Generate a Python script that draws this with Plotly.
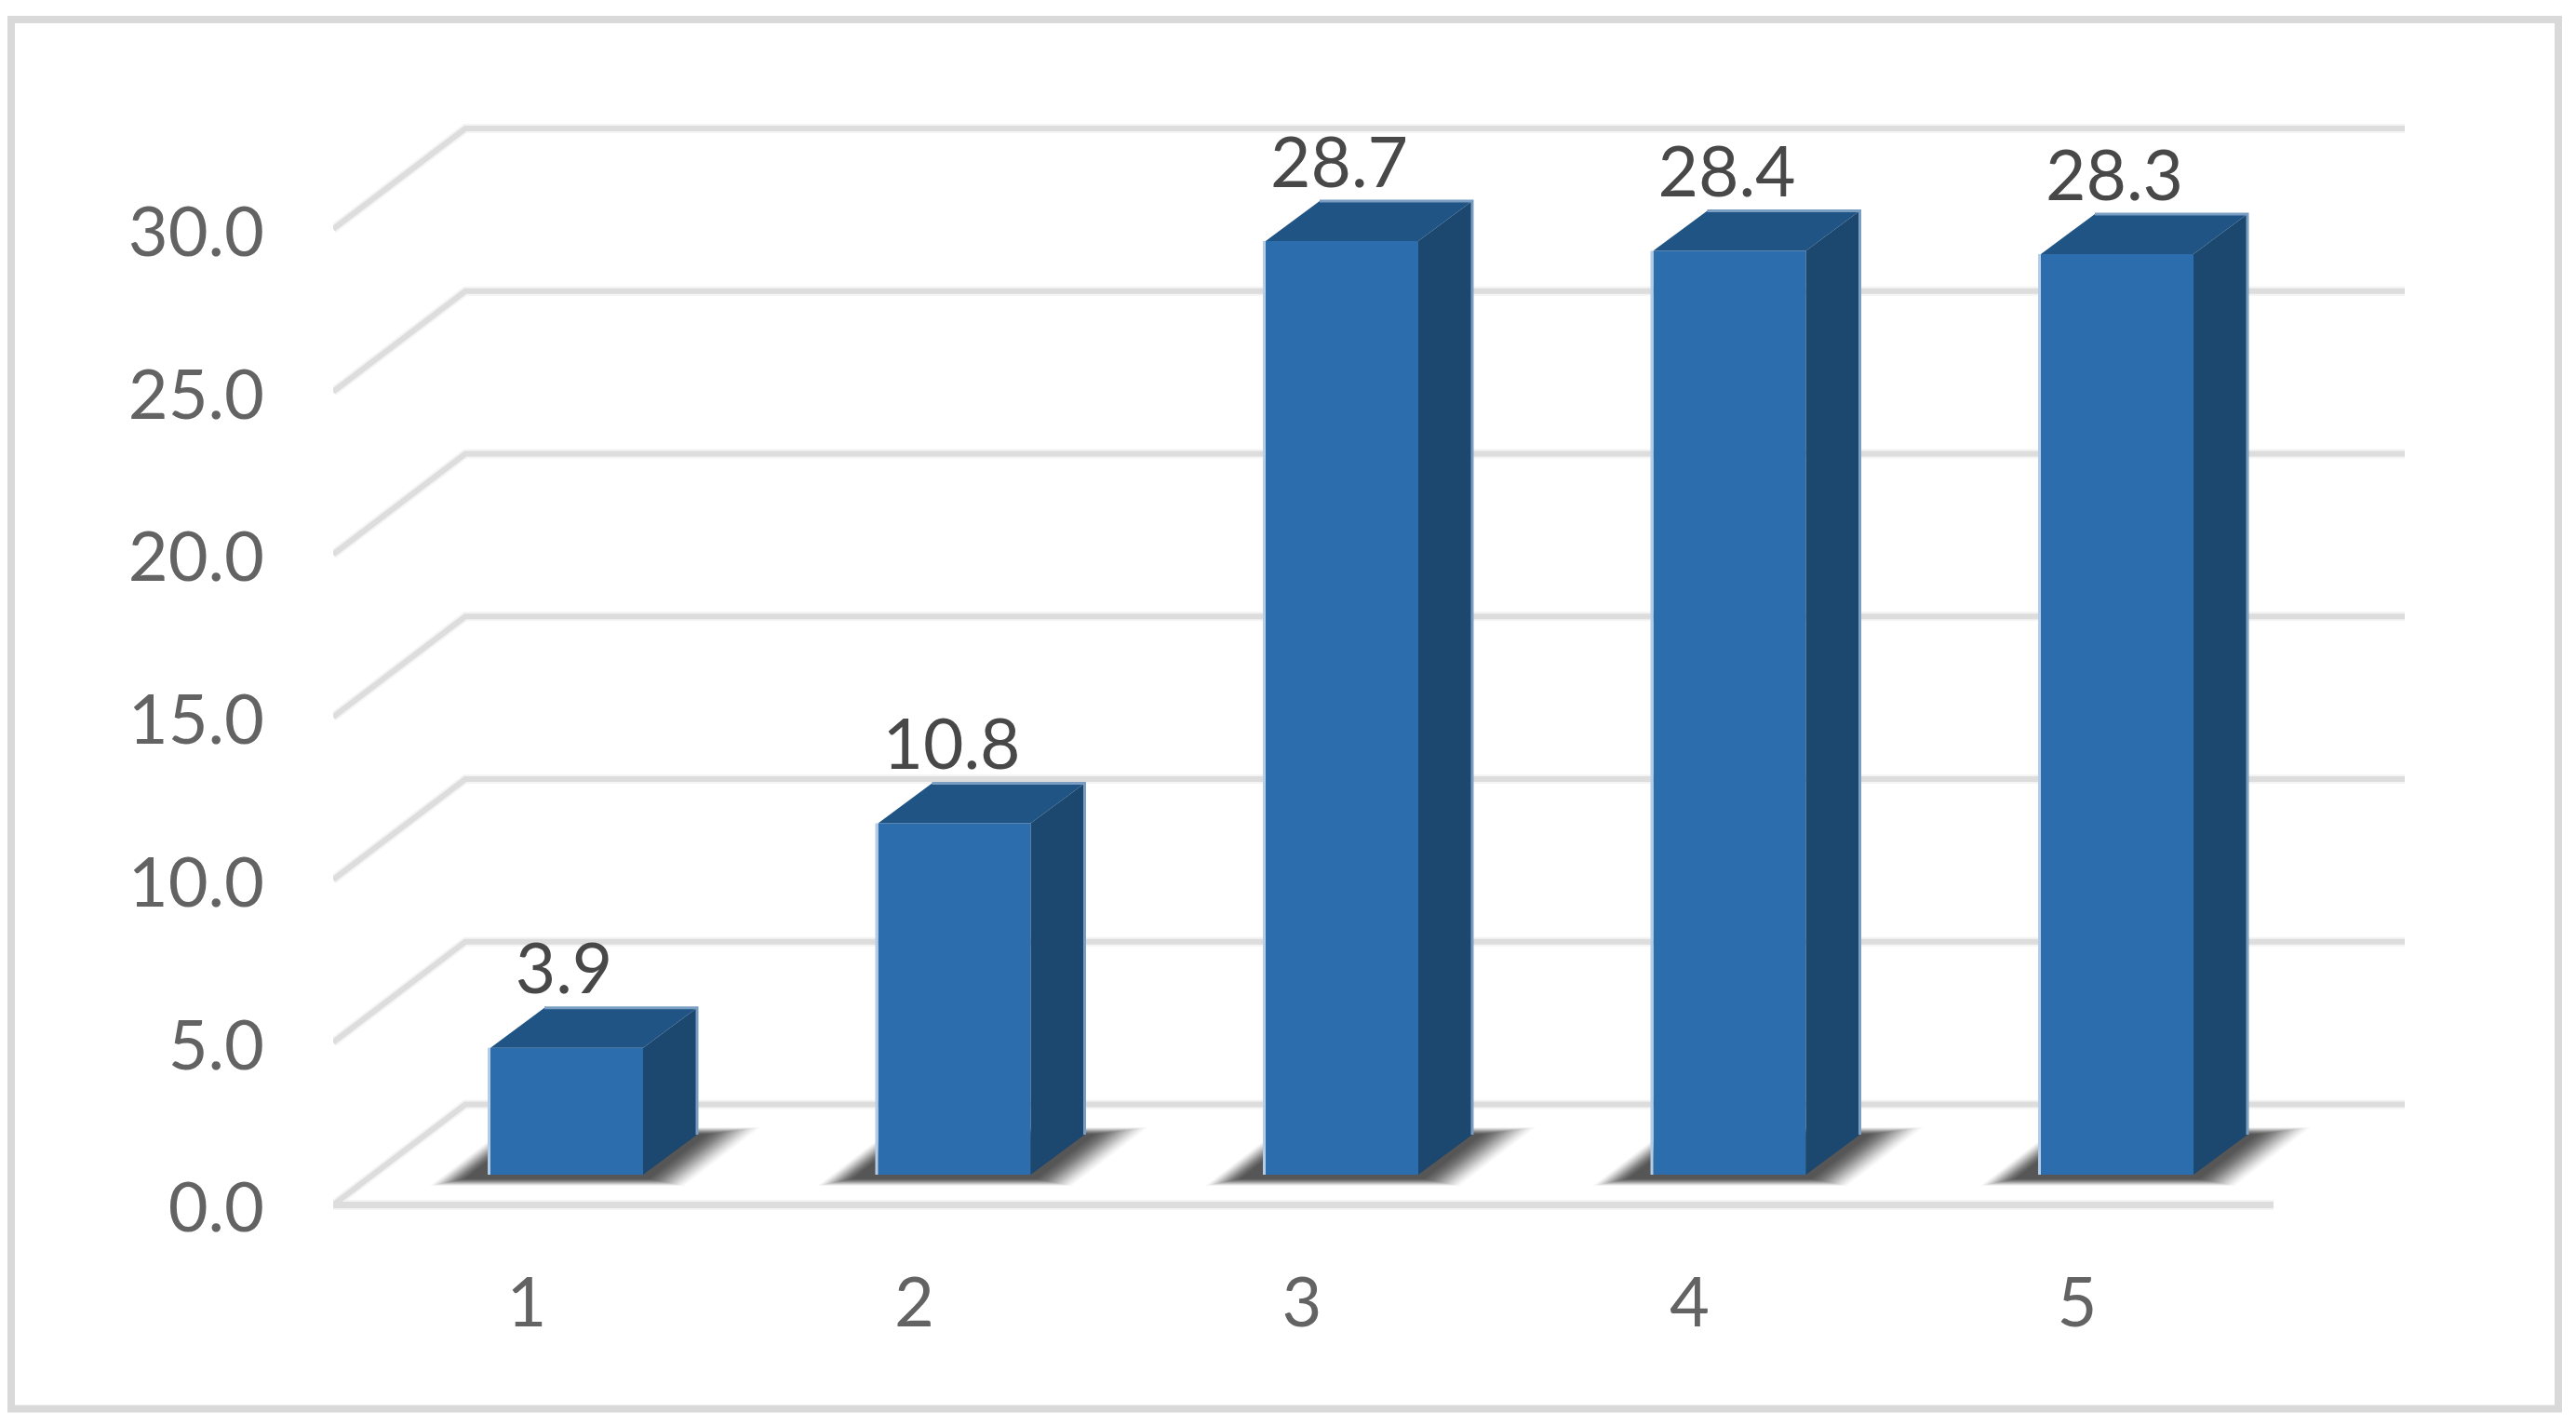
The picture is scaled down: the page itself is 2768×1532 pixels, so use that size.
import plotly.graph_objects as go

# ---- data ----
categories = [1, 2, 3, 4, 5]
values = [3.9, 10.8, 28.7, 28.4, 28.3]
y_ticks = [0, 5, 10, 15, 20, 25, 30]

# ---- geometry (figure pixels) ----
W, H = 2768, 1532
PX_X = 416.5          # pixels per category
PX_Y = 34.95          # pixels per value unit
X1_PX = 609.0         # pixel of category 1 centre
Y0_PX = 1262.0        # pixel of value 0 on bar front
L, R, T, B = 358, 2584, 120, 1330

xr = [(L - X1_PX) / PX_X + 1, (R - X1_PX) / PX_X + 1]
yr = [(Y0_PX - B) / PX_Y, (Y0_PX - T) / PX_Y]

bar_w = 164 / PX_X
bar_dx, bar_dy = 58 / PX_X, 43 / PX_Y
floor_dx, floor_dy = 142 / PX_X, 108 / PX_Y
front_y = (Y0_PX - 1294.5) / PX_Y     # value offset of the front floor edge
floor_x0 = xr[0]
floor_x1 = xr[0] + 2085 / PX_X
back_x0 = xr[0] + floor_dx
back_off = front_y + floor_dy         # value offset of the back wall

FRONT, TOP, SIDE = "#2C6EAD", "#1F5485", "#1C476F"
GRID, HALO, FRAME = "#DDDDDD", "#F4F4F4", "#D9D9D9"
FONT = "Lato"

shapes = []
# frame
def px(xp): return (xp - L) / (R - L)
def py(yp): return 1 - (yp - T) / (B - T)
shapes.append(dict(type="rect", xref="paper", yref="paper", layer="below",
                   x0=px(12), x1=px(2749), y0=py(21), y1=py(1513.5),
                   line=dict(color=FRAME, width=8), fillcolor="white"))
# walls: wall/floor gridlines, each with a pale halo
for color, extra in ((HALO, 4), (GRID, 0)):
    for v in y_ticks:
        pts = [(floor_x0, v + front_y), (back_x0, v + back_off), (xr[1], v + back_off)]
        shapes.append(dict(type="path", xref="x", yref="y", layer="below",
                           path="M" + " L".join(f"{a},{b}" for a, b in pts),
                           line=dict(color=color, width=6 + extra)))
    shapes.append(dict(type="line", xref="x", yref="y", layer="below",
                       x0=floor_x0, x1=floor_x1, y0=front_y, y1=front_y,
                       line=dict(color=color, width=7 + extra)))
# blurred floor shadows, built from nested translucent parallelograms
LAYERS = 20
for c in categories:
    for k in range(LAYERS):
        g = k * 2.0
        bl = c + (462 - 609 + g) / PX_X
        br = c + (735 - 609 - g) / PX_X
        yb = (1262 - 1274 + g * 0.2) / PX_Y
        yt = (1262 - 1211 - g * 0.2) / PX_Y
        sk = (yt - yb) * PX_Y * 1.3 / PX_X
        shapes.append(dict(type="path", xref="x", yref="y", layer="below",
                           path=f"M{bl},{yb} L{br},{yb} L{br + sk},{yt} L{bl + sk},{yt} Z",
                           fillcolor="#404040", opacity=0.03 + 0.006 * k * 1.15,
                           line=dict(width=0)))

fig = go.Figure()
fig.add_trace(go.Bar(x=categories, y=values, width=bar_w, marker=dict(color=FRONT, line=dict(width=0)),
                     hoverinfo="skip", showlegend=False))
for c, v in zip(categories, values):
    xa, xb = c - bar_w / 2, c + bar_w / 2
    fig.add_trace(go.Scatter(x=[xa, xb, xb + bar_dx, xa + bar_dx, xa], y=[v, v, v + bar_dy, v + bar_dy, v],
                             mode="lines", fill="toself", fillcolor=TOP, line=dict(width=0),
                             hoverinfo="skip", showlegend=False))
    fig.add_trace(go.Scatter(x=[xb, xb + bar_dx, xb + bar_dx, xb, xb], y=[0, bar_dy, v + bar_dy, v, 0],
                             mode="lines", fill="toself", fillcolor=SIDE, line=dict(width=0),
                             hoverinfo="skip", showlegend=False))
    # pale halo along the silhouette of each bar
    fig.add_trace(go.Scatter(x=[xa - 1.5 / PX_X, xa - 1.5 / PX_X], y=[0, v],
                             mode="lines", line=dict(color="#B4CCE6", width=3),
                             hoverinfo="skip", showlegend=False))
    fig.add_trace(go.Scatter(x=[xa + bar_dx, xb + bar_dx, xb + bar_dx],
                             y=[v + bar_dy, v + bar_dy, bar_dy],
                             mode="lines", line=dict(color="#7A9EC2", width=3),
                             hoverinfo="skip", showlegend=False))
fig.add_trace(go.Scatter(x=[c - 3 / PX_X for c in categories], y=[v + 77 / PX_Y for v in values],
                         mode="text", text=[f"{v:.1f}" for v in values], textposition="middle center",
                         textfont=dict(family=FONT, size=75, color="#484848", weight=400),
                         hoverinfo="skip", showlegend=False, cliponaxis=False))

fig.update_layout(
    width=W, height=H, margin=dict(l=L, r=W - R, t=T, b=H - B, pad=0),
    paper_bgcolor="white", plot_bgcolor="rgba(0,0,0,0)", showlegend=False, shapes=shapes,
    xaxis=dict(range=xr, showgrid=False, zeroline=False, showline=False, ticks="",
               tickmode="array", tickvals=[c - 43 / PX_X for c in categories],
               ticktext=[str(c) for c in categories], ticklabelstandoff=20,
               tickfont=dict(family=FONT, size=74, color="#636363", weight=400)),
    yaxis=dict(range=yr, showgrid=False, zeroline=False, showline=False, ticks="",
               tickmode="array", tickvals=[v + front_y - 3 / PX_Y for v in y_ticks],
               ticktext=[f"{v:.1f}" for v in y_ticks], ticklabelstandoff=73,
               tickfont=dict(family=FONT, size=74, color="#636363", weight=400)),
)
fig.write_html("out.html", config=dict(displayModeBar=False), post_script="document.body.style.margin='0';")
